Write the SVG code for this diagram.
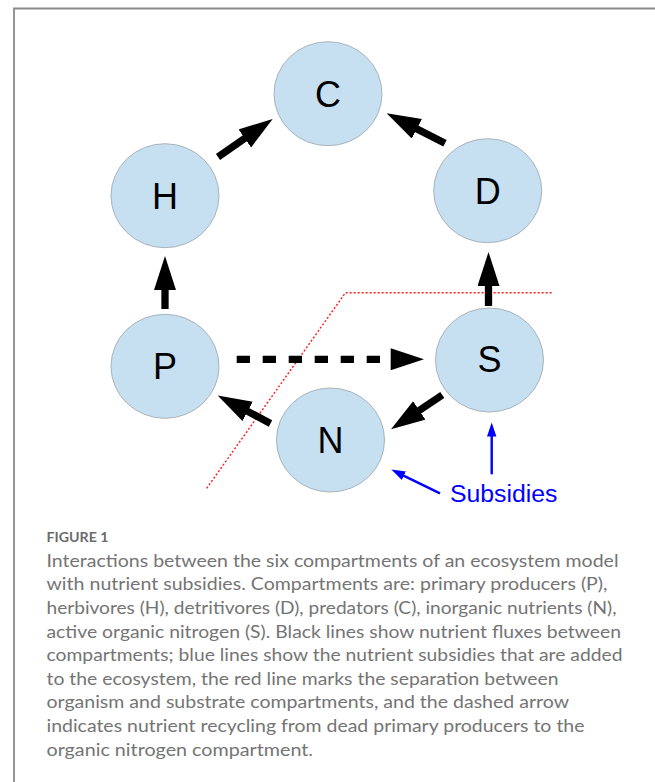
<svg xmlns="http://www.w3.org/2000/svg" width="655" height="782" viewBox="0 0 655 782">
<style>
.node ellipse{fill:#c6e0f2;stroke:#a9b3ba;stroke-width:1}
.node text{font-family:"Liberation Sans",Arial,sans-serif;font-size:36px;fill:#000;text-anchor:middle}
.flux{stroke:#000;stroke-width:7.3;fill:none}
.sub{stroke:#0000ff;stroke-width:2.4;fill:none}
.sep{stroke:#ff1a1a;stroke-width:1.4;fill:none;stroke-dasharray:2 2}
.cap{font-family:Lato,"Open Sans",sans-serif;font-size:17.5px;fill:#747474}
</style>
<defs>
<marker id="ah" markerUnits="userSpaceOnUse" markerWidth="36" markerHeight="24" refX="1" refY="11" orient="auto">
<path d="M0,0 L34,11 L0,22 z" fill="#000"/>
</marker>
<marker id="ahd" markerUnits="userSpaceOnUse" markerWidth="60" markerHeight="24" refX="-10.7" refY="11" orient="auto" overflow="visible">
<path d="M0,0 L33.3,11 L0,22 z" fill="#000"/>
</marker>
<marker id="ab" markerUnits="userSpaceOnUse" markerWidth="16" markerHeight="11" refX="1" refY="4.7" orient="auto">
<path d="M0,0 L14,4.7 L0,9.4 z" fill="#0000ff"/>
</marker>
</defs>
<rect width="655" height="782" fill="#fff"/>
<path d="M14,782 L14,8.5 L655,8.5" fill="none" stroke="#8a8a8a" stroke-width="1.8"/>

<g id="separator">
<polyline class="sep" points="206.7,488.3 345.5,292.7 553.3,292.7"/>
</g>

<g id="connectors">
<line class="flux" x1="165" y1="309" x2="165" y2="289" marker-end="url(#ah)"/>
<line class="flux" x1="488.5" y1="306" x2="488.5" y2="285" marker-end="url(#ah)"/>
<line class="flux" x1="218" y1="157" x2="245.6" y2="137.8" marker-end="url(#ah)"/>
<line class="flux" x1="445" y1="143.3" x2="416" y2="128.4" marker-end="url(#ah)"/>
<line class="flux" x1="270.5" y1="423.5" x2="246.8" y2="410.9" marker-end="url(#ah)"/>
<line class="flux" x1="442.3" y1="395" x2="418.4" y2="411" marker-end="url(#ah)"/>
<line class="flux" x1="236.7" y1="359.3" x2="380" y2="359.3" stroke-dasharray="13.3 12.7" marker-end="url(#ahd)"/>
<line class="sub" x1="491.7" y1="474.3" x2="491.7" y2="435.5" marker-end="url(#ab)"/>
<line class="sub" x1="440" y1="493.3" x2="403" y2="475.3" marker-end="url(#ab)"/>
</g>

<g id="C" class="node"><ellipse cx="328" cy="93.7" rx="54" ry="52"/><text x="328" y="107">C</text></g>
<g id="H" class="node"><ellipse cx="165" cy="195.7" rx="54" ry="52"/><text x="165" y="209">H</text></g>
<g id="D" class="node"><ellipse cx="487.7" cy="190.7" rx="54" ry="52"/><text x="487.7" y="203.5">D</text></g>
<g id="P" class="node"><ellipse cx="165" cy="366.3" rx="54" ry="52"/><text x="165" y="379.3">P</text></g>
<g id="S" class="node"><ellipse cx="489.5" cy="360" rx="54" ry="52"/><text x="489.5" y="372">S</text></g>
<g id="N" class="node"><ellipse cx="330.5" cy="440" rx="54" ry="52"/><text x="330.5" y="453">N</text></g>

<g id="subsidies">
<text x="450" y="501.7" font-family="'Liberation Sans',Arial,sans-serif" font-size="24.8" fill="#0000ff">Subsidies</text>
</g>

<g id="caption">
<text x="46.5" y="542" font-family="Lato,'Open Sans',sans-serif" font-size="13.5" font-weight="bold" fill="#6b6b6b" textLength="62" lengthAdjust="spacingAndGlyphs">FIGURE 1</text>
<text class="cap" x="46.5" y="566.7" textLength="572" lengthAdjust="spacingAndGlyphs">Interactions between the six compartments of an ecosystem model</text>
<text class="cap" x="46.5" y="590.3" textLength="561" lengthAdjust="spacingAndGlyphs">with nutrient subsidies. Compartments are: primary producers (P),</text>
<text class="cap" x="46.5" y="613.9" textLength="570" lengthAdjust="spacingAndGlyphs">herbivores (H), detritivores (D), predators (C), inorganic nutrients (N),</text>
<text class="cap" x="46.5" y="637.5" textLength="574.5" lengthAdjust="spacingAndGlyphs">active organic nitrogen (S). Black lines show nutrient fluxes between</text>
<text class="cap" x="46.5" y="661.1" textLength="576" lengthAdjust="spacingAndGlyphs">compartments; blue lines show the nutrient subsidies that are added</text>
<text class="cap" x="46.5" y="684.7" textLength="512" lengthAdjust="spacingAndGlyphs">to the ecosystem, the red line marks the separation between</text>
<text class="cap" x="46.5" y="708.3" textLength="522.5" lengthAdjust="spacingAndGlyphs">organism and substrate compartments, and the dashed arrow</text>
<text class="cap" x="46.5" y="731.9" textLength="538" lengthAdjust="spacingAndGlyphs">indicates nutrient recycling from dead primary producers to the</text>
<text class="cap" x="46.5" y="755.5" textLength="266.5" lengthAdjust="spacingAndGlyphs">organic nitrogen compartment.</text>
</g>
</svg>
